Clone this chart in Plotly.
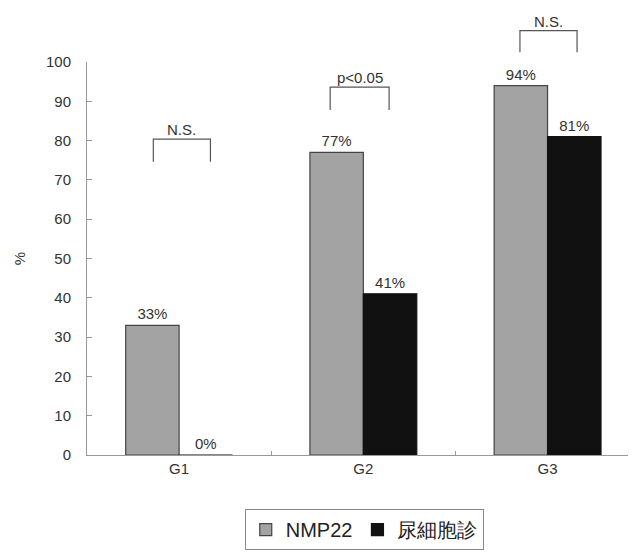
import plotly.graph_objects as go

categories = ["G1", "G2", "G3"]
nmp22 = [33, 77, 94]
cytology = [0, 41, 81]
series_names = ["NMP22", "尿細胞診"]
y_ticks = [0, 10, 20, 30, 40, 50, 60, 70, 80, 90, 100]

# significance brackets: (left x, right x, top y, bottom y, label) in data units
brackets = [
    (-0.14, 0.17, 80.4, 74.6, "N.S."),
    (0.82, 1.14, 93.6, 87.8, "p<0.05"),
    (1.85, 2.16, 108.0, 102.5, "N.S."),
]

YMAX = 100
FONT = "Liberation Sans, Arial, sans-serif"
TXT = "#333333"

fig = go.Figure()
fig.add_trace(go.Bar(
    x=categories, y=nmp22, name=series_names[0],
    marker=dict(color="#a3a3a3", line=dict(color="#444444", width=1.2)),
    text=[f"{v}%" for v in nmp22], textposition="outside",
    textfont=dict(size=15, color=TXT, family=FONT), cliponaxis=False,
))
fig.add_trace(go.Bar(
    x=categories, y=cytology, name=series_names[1],
    marker=dict(color="#111111", line=dict(color="#111111", width=1.2)),
    text=[f"{v}%" for v in cytology], textposition="outside",
    textfont=dict(size=15, color=TXT, family=FONT), cliponaxis=False,
))

for x0, x1, ytop, ybot, lab in brackets:
    fig.add_shape(type="path", xref="x", yref="paper",
                  path=f"M {x0},{ybot/YMAX} L {x0},{ytop/YMAX} L {x1},{ytop/YMAX} L {x1},{ybot/YMAX}",
                  line=dict(color="#555555", width=1.2))
    fig.add_annotation(x=(x0 + x1) / 2, y=ytop / YMAX, xref="x", yref="paper",
                       text=lab, showarrow=False, yanchor="bottom", yshift=-1,
                       font=dict(size=15, color=TXT, family=FONT))

fig.update_layout(
    width=628, height=545,
    margin=dict(l=79, r=0, t=54, b=98),
    paper_bgcolor="white", plot_bgcolor="white",
    barmode="group", bargap=0.42, bargroupgap=0,
    font=dict(family=FONT, color=TXT),
    showlegend=True,
    legend=dict(orientation="h", x=0.505, y=-0.19, xanchor="center", yanchor="middle",
                bordercolor="#888888", borderwidth=1, font=dict(size=20, color="#222222"),
                itemwidth=30, tracegroupgap=0),
    xaxis=dict(range=[-0.5, 2.48], showline=True, linecolor="#999999", linewidth=1,
               ticks="inside", tickson="boundaries", ticklen=4, tickcolor="#999999",
               tickfont=dict(size=15, color=TXT), showgrid=False),
    yaxis=dict(range=[0, YMAX], tickvals=y_ticks, showline=True, linecolor="#999999",
               linewidth=1, ticks="inside", ticklen=5, tickcolor="#999999",
               ticklabelstandoff=12,
               tickfont=dict(size=15, color=TXT), showgrid=False, zeroline=False,
               title=dict(text="%", font=dict(size=15, color=TXT), standoff=16)),
)

fig.write_html("out.html")
